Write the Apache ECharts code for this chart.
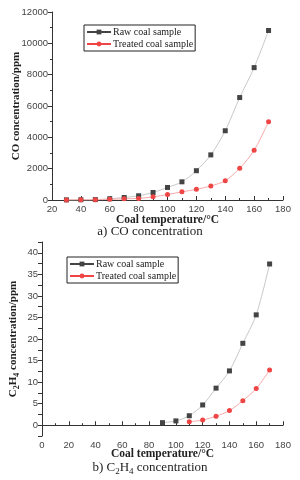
<!DOCTYPE html>
<html><head><meta charset="utf-8">
<script src="https://cdn.jsdelivr.net/npm/echarts@6/dist/echarts.min.js"></script>
<style>html,body{margin:0;padding:0;background:#fff}#c{width:300px;height:480px}</style>
</head><body><div id="c"></div>
<script>
var coTemps = [30,40,50,60,70,80,90,100,110,120,130,140,150,160,170];
var coRaw = [10,15,25,80,160,270,480,800,1160,1870,2880,4420,6540,8450,10820];
var coTreated = [5,8,12,40,80,100,200,350,520,680,900,1230,2020,3170,5000];
var c2Temps = [90,100,110,120,130,140,150,160,170];
var c2Raw = [0.6,1.0,2.2,4.7,8.6,12.6,19.0,25.6,37.4];
var c2TempsT = [110,120,130,140,150,160,170];
var c2Treated = [0.8,1.2,2.1,3.4,5.7,8.5,12.8];
var seriesNames = ['Raw coal sample','Treated coal sample'];

function pairs(x,y){return x.map(function(v,i){return [v,y[i]];});}
var FONT = 'Liberation Serif';
var SANS = 'Liberation Sans';
var labelStyle = {fontFamily:SANS,fontSize:9.5,color:'#444',margin:4,formatter:function(v){return String(v);}};
var nameStyle = {fontFamily:FONT,fontSize:11.5,fontWeight:'bold',color:'#222'};
function ax(o, inside){
  var base = {
    axisLine:{show:true,lineStyle:{color:'#333',width:1}},
    axisTick:{show:true,inside:!!inside,length:4,lineStyle:{color:'#333'}},
    minorTick:{show:true,splitNumber:2,length:2,lineStyle:{color:'#333'}},
    splitLine:{show:false},
    nameMoveOverlap:false,
    axisLabel:labelStyle,nameLocation:'middle',nameTextStyle:nameStyle};
  return Object.assign(base,o);
}

var rawStyle = {type:'line',smooth:0.3,symbol:'rect',symbolSize:5,
  lineStyle:{color:'#c8c8c8',width:1},itemStyle:{color:'#444'}};
var trtStyle = {type:'line',smooth:0.3,symbol:'circle',symbolSize:5,
  lineStyle:{color:'#f6a8a8',width:1},itemStyle:{color:'#f04545'}};

function legend(left,top){
  return {orient:'vertical',left:left,top:top,itemWidth:24,itemHeight:6,itemGap:2,
    padding:[2,2,2,2],borderColor:'#222',borderWidth:1,
    textStyle:{fontFamily:FONT,fontSize:10,color:'#222',padding:[0,0,0,-3]},
    data:[{name:seriesNames[0],lineStyle:{color:'#444'}},{name:seriesNames[1],lineStyle:{color:'#f04545'}}]};
}

var chart = echarts.init(document.getElementById('c'));
chart.setOption({
  animation:false,
  backgroundColor:'#fff',
  grid:[{left:52,right:17,top:12,bottom:280,containLabel:false,outerBoundsMode:'none'},
        {left:42,right:17,top:242,bottom:44,containLabel:false,outerBoundsMode:'none'}],
  legend:[legend(84,25),legend(67,257)],
  xAxis:[
    ax({gridIndex:0,type:'value',min:20,max:180,interval:20,name:'Coal temperature/°C',nameGap:14}, true),
    ax({gridIndex:1,type:'value',min:0,max:180,interval:20,name:'Coal temperature/°C',nameGap:12}, true)
  ],
  yAxis:[
    ax({gridIndex:0,type:'value',min:0,max:12000,interval:2000,name:'CO concentration/ppm',nameGap:30,
      nameTextStyle:{fontFamily:FONT,fontSize:11,fontWeight:'bold',color:'#222'}}),
    ax({gridIndex:1,type:'value',min:-2.5,max:42.5,interval:2.5,
      minorTick:{show:false},
      axisLabel:{fontFamily:SANS,fontSize:9.5,color:'#444',margin:4,
        formatter:function(v){return (Math.abs(v%5)<1e-9 && v>=0)?String(v):'';}},
      name:'{n|C}{s|2}{n|H}{s|4}{n| concentration/ppm}',nameGap:21,
      nameTextStyle:{fontFamily:FONT,fontSize:11,fontWeight:'bold',color:'#222',
        rich:{n:{fontFamily:FONT,fontSize:11,fontWeight:'bold',color:'#222',lineHeight:13,verticalAlign:'top'},
              s:{fontFamily:FONT,fontSize:8,fontWeight:'bold',color:'#222',lineHeight:8,padding:[5,0,0,0],verticalAlign:'top'}}}})
  ],
  graphic:[
    {type:'text',left:'center',top:225,style:{text:'a) CO concentration',font:'13px "Liberation Serif"',fill:'#222'}},
    {type:'text',left:'center',top:461,style:{text:'{n|b) C}{s|2}{n|H}{s|4}{n| concentration}',font:'13px "Liberation Serif"',fill:'#222',
      rich:{n:{fontFamily:FONT,fontSize:13,fill:'#222',lineHeight:15,verticalAlign:'top'},
            s:{fontFamily:FONT,fontSize:9,fill:'#222',lineHeight:9,padding:[6,0,0,0],verticalAlign:'top'}}}}
  ],
  series:[
    Object.assign({name:seriesNames[0],xAxisIndex:0,yAxisIndex:0,data:pairs(coTemps,coRaw)},rawStyle),
    Object.assign({name:seriesNames[1],xAxisIndex:0,yAxisIndex:0,data:pairs(coTemps,coTreated)},trtStyle),
    Object.assign({name:seriesNames[0],xAxisIndex:1,yAxisIndex:1,data:pairs(c2Temps,c2Raw)},rawStyle),
    Object.assign({name:seriesNames[1],xAxisIndex:1,yAxisIndex:1,data:pairs(c2TempsT,c2Treated)},trtStyle)
  ]
});
</script></body></html>
